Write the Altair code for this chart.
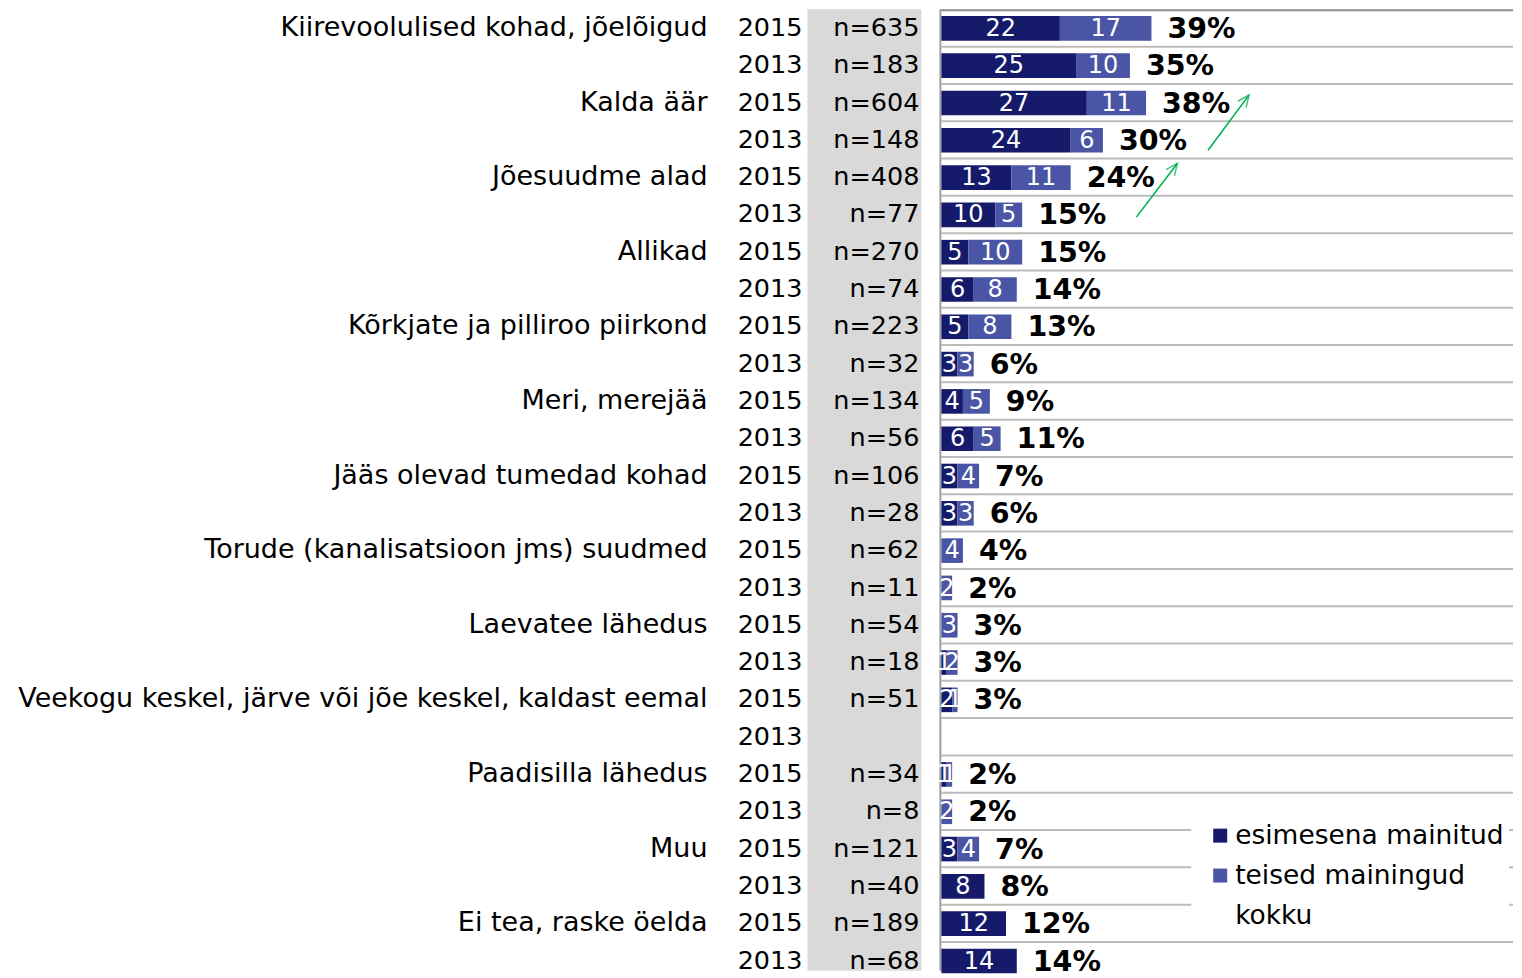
import altair as alt
import pandas as pd

categories = ["Kiirevoolulised kohad, jõelõigud", "Kalda äär", "Jõesuudme alad", "Allikad",
              "Kõrkjate ja pilliroo piirkond", "Meri, merejää", "Jääs olevad tumedad kohad",
              "Torude (kanalisatsioon jms) suudmed", "Laevatee lähedus",
              "Veekogu keskel, järve või jõe keskel, kaldast eemal", "Paadisilla lähedus",
              "Muu", "Ei tea, raske öelda"]
years = ["2015", "2013"]
n_2015 = [635, 604, 408, 270, 223, 134, 106, 62, 54, 51, 34, 121, 189]
n_2013 = [183, 148, 77, 74, 32, 56, 28, 11, 18, None, 8, 40, 68]
first_2015 = [22, 27, 13, 5, 5, 4, 3, 0, 0, 2, 1, 3, 12]
other_2015 = [17, 11, 11, 10, 8, 5, 4, 4, 3, 1, 1, 4, 0]
total_2015 = [39, 38, 24, 15, 13, 9, 7, 4, 3, 3, 2, 7, 12]
first_2013 = [25, 24, 10, 6, 3, 6, 3, 0, 1, None, 0, 8, 14]
other_2013 = [10, 6, 5, 8, 3, 5, 3, 2, 2, None, 2, 0, 0]
total_2013 = [35, 30, 15, 14, 6, 11, 6, 2, 3, None, 2, 8, 14]

series_names = ["esimesena mainitud", "teised maaningud"]
legend_labels = ["esimesena mainitud", "teised mainingud", "kokku"]
colors = ["#151B6A", "#4A55A5"]

# arrows (data units: percent, row index)
arrow_id = [1, 1, 2, 2]
arrow_x = [36.2, 43.8, 49.5, 57.1]
arrow_y = [5.57, 4.13, 3.78, 2.30]

FONT = "DejaVu Sans"
W, H = 1506, 962
ROW_PX = 37.33
NROWS = 26

rows, segs = [], []
for i, cat in enumerate(categories):
    for j, yr in enumerate(years):
        r = 2 * i + j
        n = n_2015[i] if j == 0 else n_2013[i]
        f = first_2015[i] if j == 0 else first_2013[i]
        o = other_2015[i] if j == 0 else other_2013[i]
        t = total_2015[i] if j == 0 else total_2013[i]
        rows.append({
            "row": r + 0.5,
            "cat": cat if j == 0 else "",
            "year": yr,
            "n": f"n={n}" if n is not None else "",
            "total": t,
            "tlabel": f"{t}%" if t is not None else "",
        })
        if f is not None:
            start = 0
            for name, v in zip(series_names, [f, o]):
                if v > 0:
                    segs.append({"row": r + 0.5, "y0": r + 0.18, "y1": r + 0.84,
                                 "series": name, "start": start, "end": start + v,
                                 "mid": start + v / 2, "label": str(v)})
                start += v

rows_df = pd.DataFrame(rows)
segs_df = pd.DataFrame(segs)
tot_df = rows_df.dropna(subset=["total"])
grid_df = pd.DataFrame({"b": list(range(1, NROWS))})
arrow_df = pd.DataFrame({"id": arrow_id, "x": arrow_x, "y": arrow_y})
head_df = arrow_df.groupby("id").last().reset_index()

yscale = alt.Scale(domain=[0, H / ROW_PX], reverse=True, nice=False, zero=False)
xscale = alt.Scale(domain=[0, 100], range=[934, 934 + 539], nice=False, zero=False)

one = pd.DataFrame({"a": [0]})

band = alt.Chart(one).mark_rect(color="#D9D9D9").encode(
    x=alt.value(800), x2=alt.value(914), y=alt.value(0), y2=alt.value(H))

grid = alt.Chart(grid_df).mark_rule(color="#BBBBBB", strokeWidth=2).encode(
    y=alt.Y("b:Q", scale=yscale, axis=None), x=alt.value(934), x2=alt.value(W))

topline = alt.Chart(one).mark_rule(color="#8C8C8C", strokeWidth=2).encode(
    y=alt.value(1), x=alt.value(933), x2=alt.value(W))

vline = alt.Chart(one).mark_rule(color="#A0A0A0", strokeWidth=2).encode(
    x=alt.value(933), y=alt.value(0), y2=alt.value(H))

bars = alt.Chart(segs_df).mark_rect().encode(
    x=alt.X("start:Q", scale=xscale, axis=None), x2="end:Q",
    y=alt.Y("y0:Q", scale=yscale, axis=None), y2="y1:Q",
    color=alt.Color("series:N", scale=alt.Scale(domain=series_names, range=colors), legend=None))

inner = alt.Chart(segs_df).mark_text(color="white", font=FONT, fontSize=24, baseline="middle", dy=1).encode(
    x=alt.X("mid:Q", scale=xscale), y=alt.Y("row:Q", scale=yscale), text="label:N")

totals = alt.Chart(tot_df).mark_text(color="black", font=FONT, fontSize=28.5, fontWeight="bold",
                                     align="left", baseline="middle", dx=16, dy=1).encode(
    x=alt.X("total:Q", scale=xscale), y=alt.Y("row:Q", scale=yscale), text="tlabel:N")

cat_text = alt.Chart(rows_df).mark_text(color="black", font=FONT, fontSize=27, align="right",
                                        baseline="middle").encode(
    x=alt.value(700), y=alt.Y("row:Q", scale=yscale), text="cat:N")

year_text = alt.Chart(rows_df).mark_text(color="black", font=FONT, fontSize=25.5, align="right",
                                         baseline="middle").encode(
    x=alt.value(795), y=alt.Y("row:Q", scale=yscale), text="year:N")

n_text = alt.Chart(rows_df).mark_text(color="black", font=FONT, fontSize=25.5, align="right",
                                      baseline="middle").encode(
    x=alt.value(912), y=alt.Y("row:Q", scale=yscale), text="n:N")

arrows = alt.Chart(arrow_df).mark_line(color="#00B050", strokeWidth=1.6).encode(
    x=alt.X("x:Q", scale=xscale), y=alt.Y("y:Q", scale=yscale), detail="id:N", order="y:Q")

heads = alt.Chart(head_df).mark_point(shape="M-0.45,1L0,0L0.45,1", size=550, angle=37,
                                      color="#00B050", filled=False, strokeWidth=1.6).encode(
    x=alt.X("x:Q", scale=xscale), y=alt.Y("y:Q", scale=yscale))

leg_box = alt.Chart(pd.DataFrame({"y0": [21.7], "y1": [24.8]})).mark_rect(color="white").encode(
    x=alt.value(1184), x2=alt.value(1502),
    y=alt.Y("y0:Q", scale=yscale), y2="y1:Q")

leg_df = pd.DataFrame({"label": legend_labels, "y": [22.15, 23.22, 24.3],
                       "sym": series_names + [""]})
leg_sym = alt.Chart(leg_df.iloc[:2]).mark_square(size=196, opacity=1).encode(
    x=alt.value(1213), y=alt.Y("y:Q", scale=yscale),
    color=alt.Color("sym:N", scale=alt.Scale(domain=series_names, range=colors), legend=None))
leg_txt = alt.Chart(leg_df).mark_text(color="black", font=FONT, fontSize=26.5, align="left",
                                      baseline="middle").encode(
    x=alt.value(1228), y=alt.Y("y:Q", scale=yscale), text="label:N")

chart = alt.layer(band, grid, topline, vline, bars, inner, totals, cat_text, year_text, n_text,
                  arrows, heads, leg_box, leg_sym, leg_txt).properties(
    width=W, height=H, padding=0
).configure_view(stroke=None)

chart.save("out.html", embed_options={"renderer": "svg", "actions": False})
